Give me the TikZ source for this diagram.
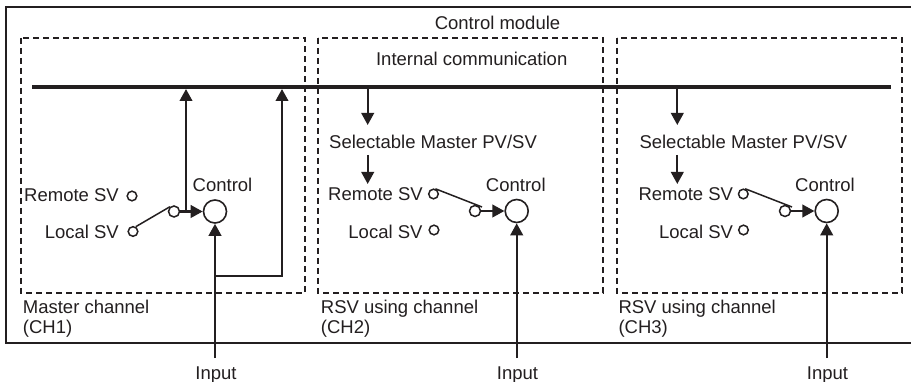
\documentclass[tikz,border=0pt]{standalone}
\usepackage{fontspec}
\setmainfont{Liberation Sans}
\usetikzlibrary{arrows.meta,calc}
\definecolor{ink}{HTML}{231F20}
\begin{document}
\begin{tikzpicture}[x=1pt,y=-1pt,
  every node/.style={inner sep=0pt,text=ink},
  lbl/.style={font=\fontsize{18.5}{20}\selectfont},
  term/.style={circle,draw=ink,line width=1.5pt,minimum size=9.6pt},
  pivot/.style={circle,draw=ink,line width=1.5pt,minimum size=11pt},
  ctrl/.style={circle,draw=ink,line width=1.6pt,minimum size=23pt},
  arr/.style={draw=ink,line width=2.3pt,-{Triangle[length=12pt,width=12.5pt]}},
  sw/.style={draw=ink,line width=1.5pt},
  chan/.style={draw=ink,line width=1.5pt,dash pattern=on 6pt off 4pt},
  frame/.style={draw=ink,line width=1.6pt},
  bus/.style={draw=ink,line width=4.5pt}]
\fill[white] (0,0) rectangle (911,382);
\useasboundingbox (0,0) rectangle (911,382);

% outer frame
\draw[frame] (913,7) -- (6,7) -- (6,343) -- (913,343);
\node[lbl,anchor=base] (cm) at (497.5,30) {Control module};

% channel boxes
\draw[chan] (21,38) rectangle (305,293);
\draw[chan] (318,38) rectangle (603,293);
\draw[chan] (617,38) rectangle (902,293);

% bus
\node[lbl,anchor=base] (ic) at (471.7,66) {Internal communication};
\coordinate (busL) at (32,87);
\coordinate (busR) at (891,87);
\draw[bus] (busL) -- (busR);

% ---------- CH1 ----------
\node[lbl,anchor=base east] (rt1) at (119,201.5) {Remote SV};
\node[term] (r1) at (132,196) {};
\node[lbl,anchor=base east] (lt1) at (119,238.3) {Local SV};
\node[term] (l1) at (133,231.5) {};
\node[pivot] (p1) at (174,211.5) {};
\node[ctrl] (c1) at (215,211.5) {};
\node[lbl,anchor=base] (ct1) at (222.5,191.5) {Control};
\draw[sw] (l1.60) -- (p1.130);
\draw[arr] (p1.east) -- (c1.west);
\coordinate (j1) at (186,211.5);
\coordinate (b1a) at (186,89);
\draw[arr] (j1) -- (b1a);
\node[lbl,anchor=base] (in1) at (216,379) {Input};
\coordinate (in1top) at (215,358);
\draw[arr] (in1top) -- (c1.south);
\coordinate (br1) at (215,276);
\coordinate (b1b) at (282,89);
\draw[arr] (br1) -| (b1b);
\node[lbl,anchor=base west] (ch1a) at (22.7,313.3) {Master channel};
\node[lbl,anchor=base west] (ch1b) at (22.7,333.5) {(CH1)};

% ---------- CH2 ----------
\coordinate (d2) at (367.7,87);
\coordinate (d2tip) at (367.7,125);
\draw[arr] (d2) -- (d2tip);
\node[lbl,anchor=base west] (sel2) at (329,148.3) {Selectable Master PV/SV};
\coordinate (e2) at (367.7,155);
\coordinate (e2tip) at (367.7,184);
\draw[arr] (e2) -- (e2tip);
\node[lbl,anchor=base east] (rt2) at (423,201) {Remote SV};
\node[term] (r2) at (433.5,194) {};
\node[lbl,anchor=base east] (lt2) at (422.7,238.3) {Local SV};
\node[term] (l2) at (434,230) {};
\node[pivot] (p2) at (475,211) {};
\node[ctrl] (c2) at (516.7,211) {};
\node[lbl,anchor=base] (ct2) at (515.8,191.5) {Control};
\coordinate (k2) at (482,207);
\draw[sw] (r2.70) -- (k2);
\draw[arr] (p2.east) -- (c2.west);
\node[lbl,anchor=base] (in2) at (517.5,379) {Input};
\coordinate (in2top) at (516.7,358);
\draw[arr] (in2top) -- (c2.south);
\node[lbl,anchor=base west] (ch2a) at (320.7,313.3) {RSV using channel};
\node[lbl,anchor=base west] (ch2b) at (320.7,333.5) {(CH2)};

% ---------- CH3 ----------
\coordinate (d3) at (677.3,87);
\coordinate (d3tip) at (677.3,125);
\draw[arr] (d3) -- (d3tip);
\node[lbl,anchor=base west] (sel3) at (639.3,148.3) {Selectable Master PV/SV};
\coordinate (e3) at (677.3,155);
\coordinate (e3tip) at (677.3,184);
\draw[arr] (e3) -- (e3tip);
\node[lbl,anchor=base east] (rt3) at (733.3,201) {Remote SV};
\node[term] (r3) at (743.3,194) {};
\node[lbl,anchor=base east] (lt3) at (733.3,238.3) {Local SV};
\node[term] (l3) at (743.5,230) {};
\node[pivot] (p3) at (785,211) {};
\node[ctrl] (c3) at (826.7,211) {};
\node[lbl,anchor=base] (ct3) at (825,191.5) {Control};
\coordinate (k3) at (792,207);
\draw[sw] (r3.70) -- (k3);
\draw[arr] (p3.east) -- (c3.west);
\node[lbl,anchor=base] (in3) at (827.5,379) {Input};
\coordinate (in3top) at (826.7,358);
\draw[arr] (in3top) -- (c3.south);
\node[lbl,anchor=base west] (ch3a) at (618.3,313.3) {RSV using channel};
\node[lbl,anchor=base west] (ch3b) at (618.3,333.5) {(CH3)};
\end{tikzpicture}
\end{document}
